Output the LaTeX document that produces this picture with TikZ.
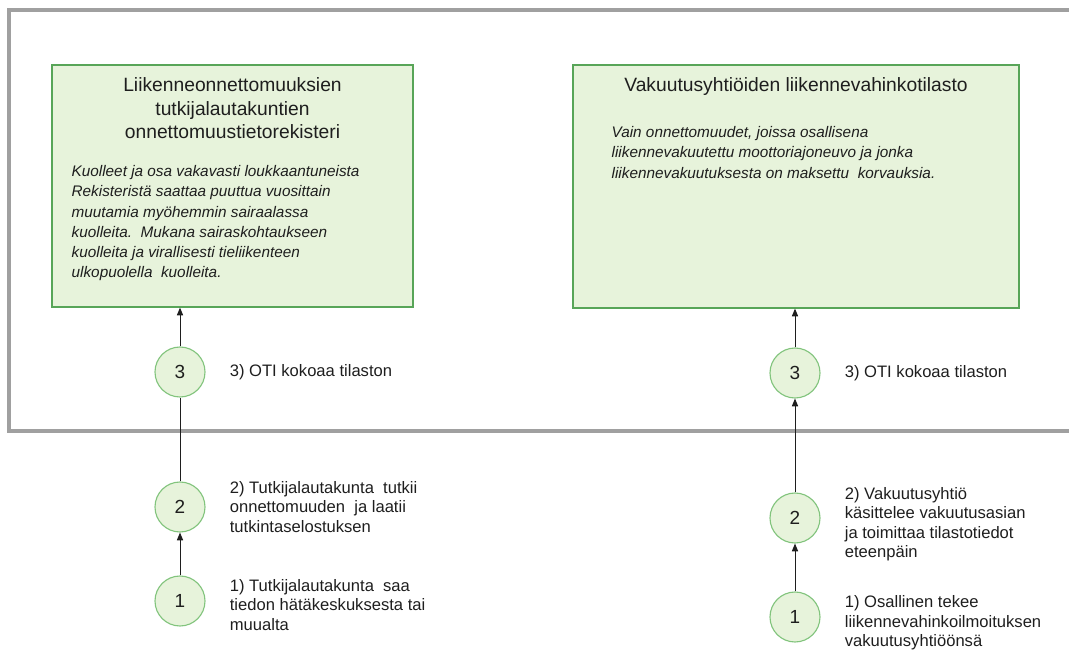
\documentclass[tikz,border=0pt]{standalone}
\usepackage{fontspec}
\setmainfont{Liberation Sans}
\usetikzlibrary{arrows.meta,positioning}

\definecolor{boxfill}{RGB}{231,243,219}
\definecolor{boxline}{RGB}{88,165,88}
\definecolor{ringline}{RGB}{130,196,125}
\definecolor{framegray}{RGB}{160,160,160}
\definecolor{txt}{RGB}{30,30,30}

\begin{document}
\begin{tikzpicture}[
  regbox/.style={draw=boxline, fill=boxfill, line width=0.9pt, inner sep=0pt},
  boxtitle/.style={align=center, inner sep=0pt, text=txt, font=\fontsize{13.7}{16.7}\selectfont},
  boxbody/.style={align=left, inner sep=0pt, text=txt, font=\fontsize{10.9}{14.4}\selectfont\itshape},
  stepnum/.style={circle, draw=ringline, fill=boxfill, line width=0.8pt, minimum size=1.25cm,
    inner sep=0pt, text=txt, font=\fontsize{13.5}{15}\selectfont},
  steplabel/.style={align=left, inner sep=0pt, text=txt, font=\fontsize{11.8}{13.8}\selectfont},
  flow/.style={-{Triangle[length=5.5pt,width=4.4pt]}, line width=0.7pt, draw=txt}
]
  \useasboundingbox (0,0) rectangle (26.725,16.325);

  % Frame
  \draw[framegray, line width=2.6pt] (27,16.075) -- (0.225,16.075) -- (0.225,5.55) -- (27,5.55);

  % Registers
  \node[regbox, minimum width=9.025cm, minimum height=6.05cm] (otirek) at (5.8125,11.675) {};
  \node[boxtitle, below=0.325cm of otirek.north] (otititle)
    {Liikenneonnettomuuksien\\tutkijalautakuntien\\onnettomuustietorekisteri};
  \node[boxbody, below right=2.525cm and 0.5cm of otirek.north west] (otitext)
    {Kuolleet ja osa vakavasti loukkaantuneista\\
     Rekisteristä saattaa puuttua vuosittain\\
     muutamia myöhemmin sairaalassa\\
     kuolleita.\ \ Mukana sairaskohtaukseen\\
     kuolleita ja virallisesti tieliikenteen\\
     ulkopuolella\ \ kuolleita.};

  \node[regbox, minimum width=11.15cm, minimum height=6.075cm] (vakstat) at (19.9,11.6625) {};
  \node[boxtitle, below=0.325cm of vakstat.north] (vaktitle)
    {Vakuutusyhtiöiden liikennevahinkotilasto};
  \node[boxbody, below right=1.55cm and 0.975cm of vakstat.north west] (vaktext)
    {Vain onnettomuudet, joissa osallisena\\
     liikennevakuutettu moottoriajoneuvo ja jonka\\
     liikennevakuutuksesta on maksettu\ \ korvauksia.};

  % Steps, left
  \node[stepnum] (lc1) at (4.5,1.3) {1};
  \node[stepnum] (lc2) at (4.5,3.65) {2};
  \node[stepnum] (lc3) at (4.5,7.025) {3};
  \node[steplabel, right=0.6cm of lc1, yshift=-0.1cm] (ll1)
    {1) Tutkijalautakunta\ \ saa\\tiedon hätäkeskuksesta tai\\muualta};
  \node[steplabel, right=0.6cm of lc2] (ll2)
    {2) Tutkijalautakunta\ \ tutkii\\onnettomuuden\ \ ja laatii\\tutkintaselostuksen};
  \node[steplabel, right=0.6cm of lc3] (ll3) {3) OTI kokoaa tilaston};

  \draw[flow] (lc1) -- (lc2);
  \draw[line width=0.7pt, draw=txt] (lc2) -- (lc3);
  \draw[flow] (lc3) -- (lc3 |- otirek.south);

  % Steps, right
  \node[stepnum] (rc1) at (19.875,0.9) {1};
  \node[stepnum] (rc2) at (19.875,3.375) {2};
  \node[stepnum] (rc3) at (19.875,7.0) {3};
  \node[steplabel, right=0.6cm of rc1, yshift=-0.15cm] (rl1)
    {1) Osallinen tekee\\liikennevahinkoilmoituksen\\vakuutusyhtiöönsä};
  \node[steplabel, right=0.6cm of rc2, yshift=-0.16cm] (rl2)
    {2) Vakuutusyhtiö\\käsittelee vakuutusasian\\ja toimittaa tilastotiedot\\eteenpäin};
  \node[steplabel, right=0.6cm of rc3] (rl3) {3) OTI kokoaa tilaston};

  \draw[flow] (rc1) -- (rc2);
  \draw[flow] (rc2) -- (rc3);
  \draw[flow] (rc3) -- (rc3 |- vakstat.south);
\end{tikzpicture}
\end{document}
